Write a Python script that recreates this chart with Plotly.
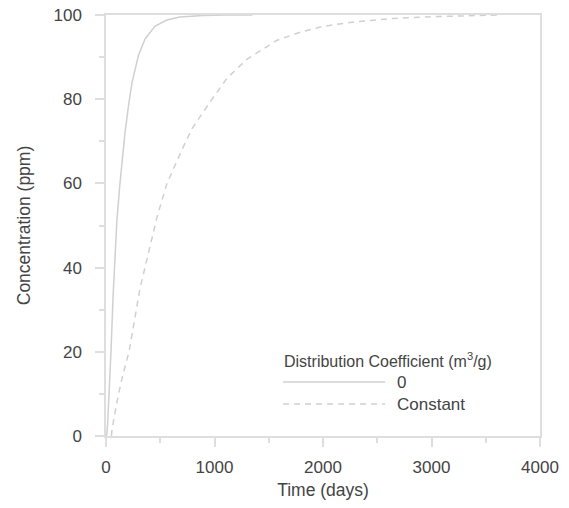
import plotly.graph_objects as go

# Data
time_k0 = [0, 8, 15, 25, 35, 46, 65, 80, 100, 125, 150, 175, 205, 240, 300, 360, 450, 560, 680, 775, 900, 1100, 1350]
conc_k0 = [0, 0.5, 3, 8, 14, 20, 33, 42, 51, 59, 66, 72, 78, 84, 90.5, 94.3, 97.3, 98.8, 99.5, 99.7, 99.9, 100, 100]

time_const = [50, 55, 100, 150, 212, 313, 470, 562, 700, 793, 950, 1115, 1300, 1576, 1800, 2000, 2300, 2600, 3000, 3300, 3630]
conc_const = [0, 1.5, 8, 14, 20, 35, 52, 60, 68, 73, 79, 85, 89.5, 94, 96, 97.3, 98.4, 99.1, 99.6, 99.8, 100]

legend_title = "Distribution Coefficient (m<sup>3</sup>/g)"
series_names = ["0", "Constant"]

FONT = "Liberation Sans, Arial, sans-serif"
TXT = "#444444"
CURVE = "#d0d0d0"
AXIS = "#dedede"

fig = go.Figure()
fig.add_trace(go.Scatter(x=time_k0, y=conc_k0, mode="lines", name=series_names[0],
                         line=dict(color=CURVE, width=1.5), showlegend=False))
fig.add_trace(go.Scatter(x=time_const, y=conc_const, mode="lines", name=series_names[1],
                         line=dict(color=CURVE, width=1.5, dash="6px,5px"), showlegend=False))

# Manual legend (long line samples)
fig.add_annotation(x=0.405, y=0.18, xref="paper", yref="paper", text=legend_title,
                   showarrow=False, xanchor="left", yanchor="middle",
                   font=dict(family=FONT, size=16, color=TXT))
for i, (name, dash) in enumerate(zip(series_names, ["solid", "6px,5px"])):
    yy = 0.128 - i * 0.052
    fig.add_shape(type="line", xref="paper", yref="paper", x0=0.408, x1=0.643, y0=yy, y1=yy,
                  line=dict(color=CURVE, width=1.5, dash=dash))
    fig.add_annotation(x=0.667, y=yy, xref="paper", yref="paper", text=name, showarrow=False,
                       xanchor="left", yanchor="middle", font=dict(family=FONT, size=17, color=TXT))

axis_common = dict(showgrid=False, zeroline=False, showline=True, linecolor=AXIS, linewidth=1.5,
                   mirror=True, ticks="outside", tickcolor=AXIS, tickwidth=1.5, ticklen=9,
                   automargin=False, tickfont=dict(family=FONT, size=17, color=TXT))

fig.update_xaxes(range=[0, 4000], tickvals=[0, 1000, 2000, 3000, 4000],
                 minor=dict(dtick=500, ticks="outside", ticklen=5, tickcolor=AXIS, tickwidth=1.5),
                 title=dict(text="Time (days)", font=dict(family=FONT, size=17.5, color=TXT), standoff=8),
                 ticklabelstandoff=6, **axis_common)
fig.update_yaxes(range=[0, 100], tickvals=[0, 20, 40, 60, 80, 100],
                 minor=dict(dtick=10, ticks="outside", ticklen=5, tickcolor=AXIS, tickwidth=1.5),
                 title=dict(text="Concentration (ppm)", font=dict(family=FONT, size=17.5, color=TXT), standoff=18),
                 ticklabelstandoff=10, **axis_common)

fig.update_layout(width=569, height=508, margin=dict(l=106, r=29, t=15, b=72),
                  plot_bgcolor="white", paper_bgcolor="white",
                  font=dict(family=FONT, size=17, color=TXT))

fig.write_html("out.html")
